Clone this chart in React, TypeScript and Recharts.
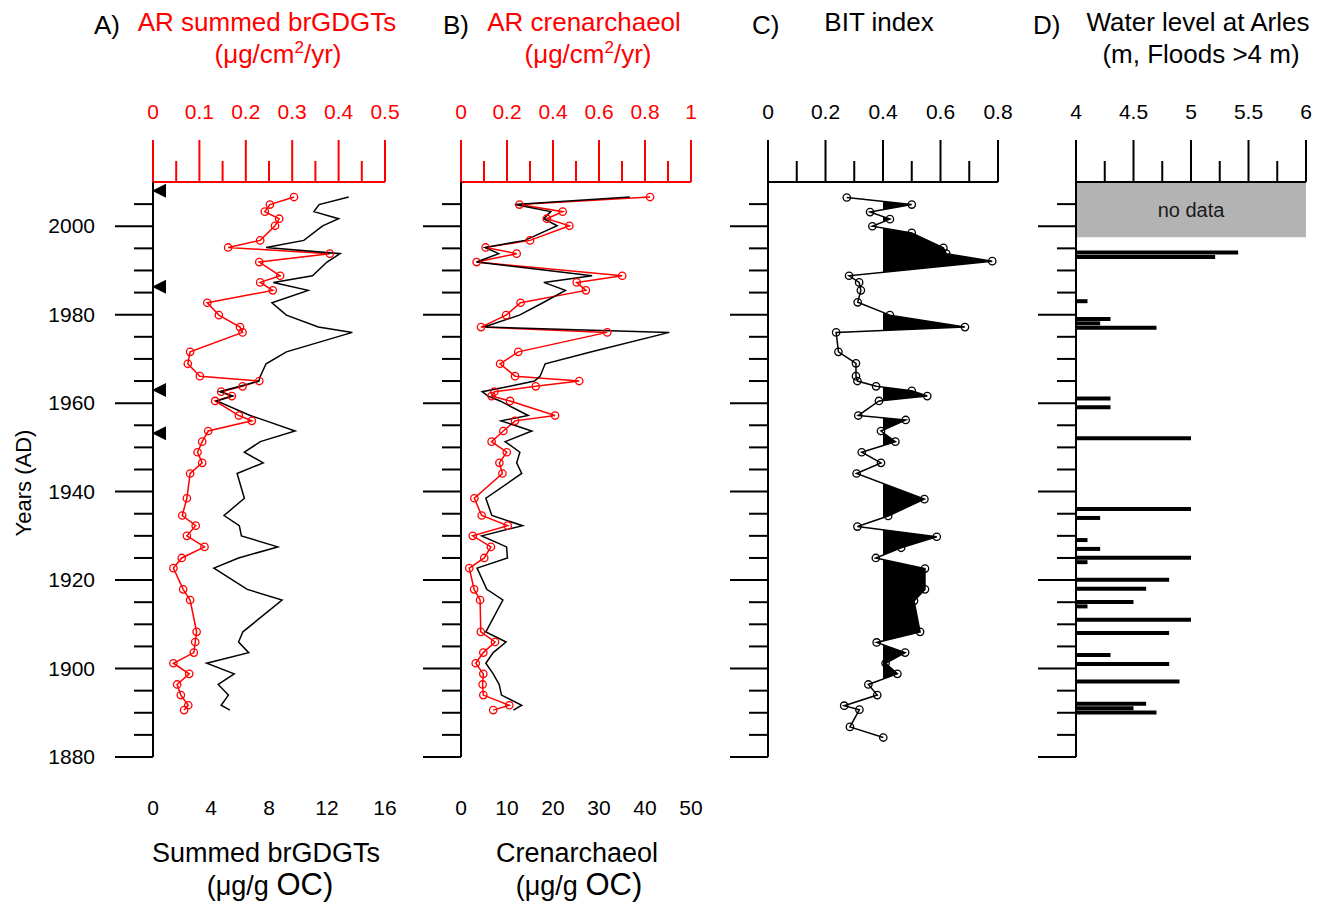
import React from 'react';
import { ComposedChart, Line, Area, Bar, XAxis, YAxis, ReferenceArea } from 'recharts';

const FONT = "'Liberation Sans', Arial, Helvetica, sans-serif";

// ---- data ----
const sampleYears = [2006.6, 2004.9, 2003.3, 2001.7, 2000.1, 1996.8, 1995.2, 1993.8, 1991.9, 1988.8,
  1987.3, 1985.5, 1982.7, 1979.9, 1977.2, 1976.0, 1971.6, 1968.9, 1966.1, 1965.0,
  1963.8, 1962.6, 1961.6, 1960.5, 1957.2, 1956.0, 1953.7, 1951.3, 1948.9, 1946.5,
  1944.1, 1938.5, 1934.6, 1932.3, 1930.0, 1927.5, 1925.0, 1922.7, 1917.9, 1915.5,
  1908.3, 1906.0, 1903.6, 1901.2, 1898.8, 1896.4, 1894.0, 1891.7, 1890.6];

const brgdgtConc = [13.5, 11.45, 11.1, 12.8, 11.7, 10.4, 7.8, 12.9, 12.0, 11.0,
  8.3, 10.7, 8.2, 9.2, 11.4, 13.75, 9.2, 7.8, 7.4, 7.3,
  6.0, 4.6, 5.5, 4.4, 6.7, 7.8, 9.8, 7.4, 6.3, 7.6,
  5.8, 6.3, 4.9, 5.95, 6.1, 8.6, 5.9, 4.2, 6.5, 8.9,
  6.2, 5.9, 6.6, 3.7, 5.6, 4.5, 5.2, 4.7, 5.3];

const brgdgtAR = [0.304, 0.252, 0.241, 0.272, 0.263, 0.231, 0.162, 0.381, 0.229, 0.274,
  0.231, 0.258, 0.117, 0.142, 0.1875, 0.193, 0.080, 0.075, 0.101, 0.229,
  0.193, 0.147, 0.170, 0.134, 0.185, 0.213, 0.119, 0.106, 0.096, 0.106,
  0.080, 0.073, 0.063, 0.092, 0.073, 0.111, 0.062, 0.044, 0.065, 0.080,
  0.094, 0.091, 0.088, 0.044, 0.078, 0.052, 0.060, 0.076, 0.067];

const crenConc = [36.7, 11.7, 19.5, 18.0, 20.9, 13.9, 5.2, 8.2, 3.4, 28.5,
  18.0, 22.7, 17.8, 12.7, 5.0, 45.3, 28.4, 18.3, 17.2, 16.0,
  10.6, 4.6, 5.9, 8.5, 14.6, 8.7, 15.4, 9.6, 12.8, 12.1,
  13.2, 5.4, 6.7, 13.4, 4.5, 9.9, 10.1, 3.5, 5.6, 9.1,
  5.4, 9.8, 7.0, 5.4, 7.0, 8.3, 8.8, 13.2, 11.4];

const crenAR = [0.822, 0.254, 0.442, 0.373, 0.471, 0.30, 0.107, 0.242, 0.068, 0.701,
  0.503, 0.543, 0.259, 0.196, 0.087, 0.636, 0.249, 0.170, 0.235, 0.514,
  0.325, 0.145, 0.133, 0.213, 0.409, 0.235, 0.184, 0.133, 0.199, 0.167,
  0.180, 0.058, 0.090, 0.203, 0.051, 0.130, 0.101, 0.036, 0.057, 0.083,
  0.086, 0.148, 0.097, 0.064, 0.097, 0.094, 0.097, 0.210, 0.140];

const bitYears = [2006.5, 2004.9, 2003.2, 2001.6, 2000.0, 1998.5, 1995.1, 1993.8, 1992.1, 1988.8,
  1987.3, 1985.5, 1982.8, 1979.9, 1977.2, 1976.0, 1971.6, 1969.0, 1966.1, 1965.0,
  1963.8, 1962.8, 1961.6, 1960.5, 1957.2, 1956.2, 1953.7, 1951.3, 1948.9, 1946.5,
  1944.1, 1938.3, 1934.5, 1932.1, 1929.8, 1927.3, 1925.0, 1922.6, 1917.9, 1915.3,
  1908.3, 1905.9, 1903.6, 1901.2, 1898.8, 1896.4, 1894.0, 1891.6, 1890.7, 1886.8, 1884.4];

const bitValues = [0.274, 0.50, 0.355, 0.424, 0.363, 0.50, 0.61, 0.62, 0.78, 0.282,
  0.317, 0.323, 0.312, 0.424, 0.685, 0.237, 0.245, 0.306, 0.306, 0.311,
  0.376, 0.50, 0.554, 0.386, 0.314, 0.479, 0.393, 0.443, 0.326, 0.393,
  0.308, 0.544, 0.418, 0.311, 0.587, 0.463, 0.375, 0.546, 0.546, 0.508,
  0.529, 0.378, 0.477, 0.409, 0.45, 0.349, 0.38, 0.265, 0.318, 0.285, 0.401];

const floodYears = [1994, 1993, 1983, 1979, 1978, 1977, 1961, 1959, 1952, 1936,
  1934, 1929, 1927, 1925, 1924, 1920, 1918, 1915, 1914, 1911,
  1908, 1903, 1901, 1897, 1892, 1891, 1890];
const floodLevels = [5.41, 5.21, 4.10, 4.30, 4.21, 4.70, 4.30, 4.30, 5.0, 5.0,
  4.21, 4.10, 4.21, 5.0, 4.10, 4.81, 4.61, 4.50, 4.10, 5.0,
  4.81, 4.30, 4.81, 4.90, 4.61, 4.50, 4.70];

const markerYears = [2008, 1986.3, 1963, 1953.2];

const yearTicks = [1880, 1885, 1890, 1895, 1900, 1905, 1910, 1915, 1920, 1925, 1930, 1935, 1940,
  1945, 1950, 1955, 1960, 1965, 1970, 1975, 1980, 1985, 1990, 1995, 2000, 2005];

const arBrTicks = [0, 0.05, 0.1, 0.15, 0.2, 0.25, 0.3, 0.35, 0.4, 0.45, 0.5];
const arBrLabels = [0, 0.1, 0.2, 0.3, 0.4, 0.5];
const concBrTicks = [0, 4, 8, 12, 16];
const arCrTicks = [0, 0.1, 0.2, 0.3, 0.4, 0.5, 0.6, 0.7, 0.8, 0.9, 1];
const arCrLabels = [0, 0.2, 0.4, 0.6, 0.8, 1];
const concCrTicks = [0, 10, 20, 30, 40, 50];
const bitTicks = [0, 0.1, 0.2, 0.3, 0.4, 0.5, 0.6, 0.7, 0.8];
const bitLabels = [0, 0.2, 0.4, 0.6, 0.8];
const waterTicks = [4, 4.25, 4.5, 4.75, 5, 5.25, 5.5, 5.75, 6];
const waterLabels = [4, 4.5, 5, 5.5, 6];

const BIT_THRESHOLD = 0.4;

// ---- derived tables ----
const dataA = sampleYears.map((year, i) => ({ year, conc: brgdgtConc[i], ar: brgdgtAR[i] }));
const dataB = sampleYears.map((year, i) => ({ year, conc: crenConc[i], ar: crenAR[i] }));
const dataC = bitYears.map((year, i) => ({ year, bit: bitValues[i] }));
const markerData = markerYears.map((year) => ({ year, m: 0 }));
const dataD = floodYears.map((year, i) => ({ year, lvl: floodLevels[i] }));

// fill polygon of BIT above threshold (clipped at threshold crossings)
const bitFill = (() => {
  const out: { year: number; f: number }[] = [];
  for (let i = 0; i < bitYears.length; i++) {
    if (i > 0) {
      const a = bitValues[i - 1] - BIT_THRESHOLD;
      const b = bitValues[i] - BIT_THRESHOLD;
      if (a * b < 0) {
        const t = a / (a - b);
        out.push({ year: bitYears[i - 1] + t * (bitYears[i] - bitYears[i - 1]), f: BIT_THRESHOLD });
      }
    }
    out.push({ year: bitYears[i], f: Math.max(bitValues[i], BIT_THRESHOLD) });
  }
  return out;
})();

const has = (arr: number[], v: number) => arr.some((a) => Math.abs(a - v) < 1e-9);

const TopTick = (props: any) => {
  const { x, y, payload, color, labels } = props;
  const v = payload.value;
  const major = has(labels, v);
  return (
    <g>
      <line x1={x} x2={x} y1={y} y2={y - (major ? 42 : 21)} stroke={color} strokeWidth={2} />
      {major && (
        <text x={x} y={y - 63} textAnchor="middle" fill={color} fontSize={21} fontFamily={FONT}>
          {String(v)}
        </text>
      )}
    </g>
  );
};

const BottomTick = (props: any) => {
  const { x, y, payload } = props;
  return (
    <text x={x} y={y + 58} textAnchor="middle" fill="#000" fontSize={21} fontFamily={FONT}>
      {String(payload.value)}
    </text>
  );
};

const LeftTick = (props: any) => {
  const { x, y, payload, showLabels } = props;
  const v = payload.value;
  const major = v % 20 === 0;
  return (
    <g>
      <line x1={x - (major ? 38 : 19)} x2={x} y1={y} y2={y} stroke="#000" strokeWidth={2} />
      {showLabels && major && (
        <text x={x - 58} y={y + 7} textAnchor="end" fill="#000" fontSize={21} fontFamily={FONT}>
          {String(v)}
        </text>
      )}
    </g>
  );
};

const Triangle = (props: any) => {
  const { cx, cy } = props;
  if (cx == null || cy == null) return null;
  return <polygon points={`${cx - 1},${cy} ${cx + 13},${cy - 7} ${cx + 13},${cy + 7}`} fill="#000" />;
};

const H = 911;
const TOP_H = 182;
const BOT_H = 154;

const yAxisEl = (width: number, showLabels: boolean) => (
  <YAxis
    type="number"
    dataKey="year"
    domain={[1880, 2010]}
    reversed
    allowDataOverflow
    ticks={yearTicks}
    interval={0}
    width={width}
    tickSize={0}
    tickMargin={0}
    tickLine={false}
    axisLine={{ stroke: '#000', strokeWidth: 2 }}
    tick={(p: any) => <LeftTick {...p} showLabels={showLabels} />}
  />
);

const topAxisEl = (domain: number[], ticks: number[], labels: number[], color: string) => (
  <XAxis
    xAxisId="top"
    orientation="top"
    type="number"
    domain={domain}
    allowDataOverflow
    ticks={ticks}
    interval={0}
    height={TOP_H}
    tickSize={0}
    tickMargin={0}
    tickLine={false}
    axisLine={{ stroke: color, strokeWidth: 2 }}
    tick={(p: any) => <TopTick {...p} color={color} labels={labels} />}
  />
);

const bottomAxisEl = (domain: number[], ticks: number[]) => (
  <XAxis
    xAxisId="bottom"
    orientation="bottom"
    type="number"
    domain={domain}
    allowDataOverflow
    ticks={ticks}
    interval={0}
    height={BOT_H}
    tickSize={0}
    tickMargin={0}
    tickLine={false}
    axisLine={false}
    tick={(p: any) => <BottomTick {...p} />}
  />
);

const redDot = { r: 3.7, stroke: '#ff0000', strokeWidth: 1.3, fill: 'none' };
const blackDot = { r: 3.7, stroke: '#000', strokeWidth: 1.3, fill: 'none' };

const Titles = () => {
  const t = { fontFamily: FONT } as const;
  return (
    <svg width={1335} height={911} style={{ position: 'absolute', left: 0, top: 0, pointerEvents: 'none' }}>
      {/* headers */}
      <text x={94} y={34} fontSize={26} style={t}>A)</text>
      <text x={267} y={31} fontSize={26} fill="#ff0000" textAnchor="middle" style={t}>AR summed brGDGTs</text>
      <text x={278} y={63} fontSize={26} fill="#ff0000" textAnchor="middle" style={t}>
        (μg/cm<tspan dy={-10} fontSize={17}>2</tspan><tspan dy={10}>/yr)</tspan>
      </text>
      <text x={443} y={34} fontSize={26} style={t}>B)</text>
      <text x={584} y={31} fontSize={26} fill="#ff0000" textAnchor="middle" style={t}>AR crenarchaeol</text>
      <text x={588} y={63} fontSize={26} fill="#ff0000" textAnchor="middle" style={t}>
        (μg/cm<tspan dy={-10} fontSize={17}>2</tspan><tspan dy={10}>/yr)</tspan>
      </text>
      <text x={752} y={34} fontSize={26} style={t}>C)</text>
      <text x={879} y={31} fontSize={26} textAnchor="middle" style={t}>BIT index</text>
      <text x={1033} y={34} fontSize={26} style={t}>D)</text>
      <text x={1198} y={31} fontSize={26} textAnchor="middle" style={t}>Water level at Arles</text>
      <text x={1201} y={63} fontSize={26} textAnchor="middle" style={t}>(m, Floods &gt;4 m)</text>
      {/* bottom titles */}
      <text x={266} y={862} fontSize={27} textAnchor="middle" style={t}>Summed brGDGTs</text>
      <text x={270} y={895} fontSize={27} textAnchor="middle" style={t}>
        (μg/g <tspan fontSize={31}>OC)</tspan>
      </text>
      <text x={577} y={862} fontSize={27} textAnchor="middle" style={t}>Crenarchaeol</text>
      <text x={579} y={895} fontSize={27} textAnchor="middle" style={t}>
        (μg/g <tspan fontSize={31}>OC)</tspan>
      </text>
      <text transform="translate(31,483) rotate(-90)" fontSize={22} textAnchor="middle" style={t}>Years (AD)</text>
    </svg>
  );
};

export default function App() {
  return (
    <div style={{ position: 'absolute', left: 0, top: 0, width: 1335, height: 911, background: '#fff', fontFamily: FONT }}>
      {/* Panel A */}
      <div style={{ position: 'absolute', left: 0, top: 0 }}>
        <ComposedChart layout="vertical" width={400} height={H} data={dataA} margin={{ top: 0, right: 15, bottom: 0, left: 0 }}>
          {topAxisEl([0, 0.5], arBrTicks, arBrLabels, '#ff0000')}
          {bottomAxisEl([0, 16], concBrTicks)}
          {yAxisEl(153, true)}
          <Line xAxisId="top" dataKey="ar" type="linear" stroke="#ff0000" strokeWidth={1.5} dot={redDot} isAnimationActive={false} />
          <Line xAxisId="bottom" dataKey="conc" type="linear" stroke="#000" strokeWidth={1.5} dot={false} isAnimationActive={false} />
          <Line xAxisId="bottom" data={markerData} dataKey="m" type="linear" stroke="none" dot={(p: any) => <Triangle key={p.index} {...p} />} isAnimationActive={false} />
        </ComposedChart>
      </div>
      {/* Panel B */}
      <div style={{ position: 'absolute', left: 400, top: 0 }}>
        <ComposedChart layout="vertical" width={310} height={H} data={dataB} margin={{ top: 0, right: 19, bottom: 0, left: 0 }}>
          {topAxisEl([0, 1], arCrTicks, arCrLabels, '#ff0000')}
          {bottomAxisEl([0, 50], concCrTicks)}
          {yAxisEl(61, false)}
          <Line xAxisId="top" dataKey="ar" type="linear" stroke="#ff0000" strokeWidth={1.5} dot={redDot} isAnimationActive={false} />
          <Line xAxisId="bottom" dataKey="conc" type="linear" stroke="#000" strokeWidth={1.5} dot={false} isAnimationActive={false} />
        </ComposedChart>
      </div>
      {/* Panel C */}
      <div style={{ position: 'absolute', left: 710, top: 0 }}>
        <ComposedChart layout="vertical" width={312} height={H} data={dataC} margin={{ top: 0, right: 24, bottom: BOT_H, left: 0 }}>
          {topAxisEl([0, 0.8], bitTicks, bitLabels, '#000')}
          {yAxisEl(58, false)}
          <Line xAxisId="top" dataKey="bit" type="linear" stroke="#000" strokeWidth={1.5} dot={blackDot} isAnimationActive={false} />
          <Area xAxisId="top" data={bitFill} dataKey="f" type="linear" baseValue={BIT_THRESHOLD} stroke="none" fill="#000" fillOpacity={1} isAnimationActive={false} />
        </ComposedChart>
      </div>
      {/* Panel D */}
      <div style={{ position: 'absolute', left: 1010, top: 0 }}>
        <ComposedChart layout="vertical" width={320} height={H} data={dataD} margin={{ top: 0, right: 24, bottom: BOT_H, left: 0 }}>
          {topAxisEl([4, 6], waterTicks, waterLabels, '#000')}
          {yAxisEl(66, false)}
          <ReferenceArea xAxisId="top" x1={4} x2={6} y1={1997.5} y2={2010} fill="#b3b3b3" fillOpacity={1} stroke="none"
            label={{ value: 'no data', position: 'center', fontSize: 20, fill: '#1a1a1a', fontFamily: FONT }} />
          <Bar xAxisId="top" dataKey="lvl" fill="#000" barSize={4} isAnimationActive={false} />
        </ComposedChart>
      </div>
      <Titles />
    </div>
  );
}
